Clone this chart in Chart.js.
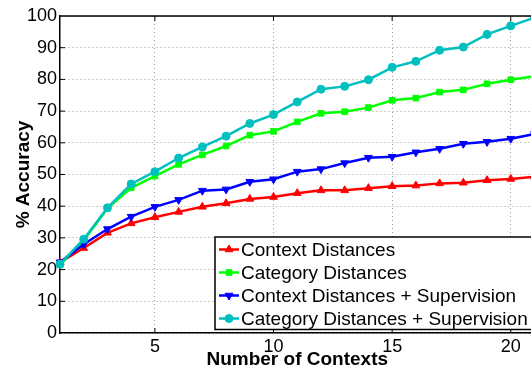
<!DOCTYPE html>
<html>
<head>
<meta charset="utf-8">
<script src="https://cdn.jsdelivr.net/npm/chart.js@4.4.1/dist/chart.umd.min.js"></script>
<style>
html, body { margin: 0; padding: 0; background: #fff; overflow: hidden; }
</style>
</head>
<body>
<canvas id="accuracyChart" width="540" height="371"></canvas>
<script>
// number of contexts on the x axis
const contexts = [1, 2, 3, 4, 5, 6, 7, 8, 9, 10, 11, 12, 13, 14, 15, 16, 17, 18, 19, 20, 21];

// % accuracy for each method
const contextDistances = [22.3, 26.8, 31.6, 34.6, 36.5, 38.2, 39.8, 40.9, 42.3, 42.9, 44.1, 45.0, 45.0, 45.7, 46.3, 46.5, 47.2, 47.4, 48.2, 48.6, 49.3];
const categoryDistances = [21.5, 29.2, 39.3, 45.8, 49.5, 53.2, 56.2, 59.0, 62.4, 63.6, 66.6, 69.3, 69.8, 71.1, 73.4, 74.1, 76.0, 76.7, 78.6, 79.9, 81.0];
const contextSupervision = [22.3, 28.0, 32.8, 36.7, 39.8, 42.0, 44.9, 45.3, 47.7, 48.5, 50.9, 51.7, 53.6, 55.3, 55.6, 57.0, 58.1, 59.7, 60.3, 61.3, 62.8];
const categorySupervision = [21.7, 29.6, 39.5, 47.0, 50.9, 55.2, 58.7, 62.1, 66.1, 68.9, 72.9, 76.9, 77.8, 79.9, 83.8, 85.7, 89.2, 90.2, 94.2, 96.9, 99.5];

const seriesNames = ['Context Distances', 'Category Distances', 'Context Distances + Supervision', 'Category Distances + Supervision'];
const xTicks = [5, 10, 15, 20];

const FONT = "'Liberation Sans', Arial, Helvetica, sans-serif";

function toPoints(values) {
    return values.map((v, i) => ({ x: contexts[i], y: v }));
}

// top border and inward tick marks like matlab
const framePlugin = {
    id: 'frame',
    afterDatasetsDraw(chart) {
        const { ctx, chartArea, scales } = chart;
        ctx.save();
        ctx.strokeStyle = '#000';
        ctx.lineWidth = 1.5;
        ctx.beginPath();
        ctx.moveTo(chartArea.left, chartArea.top);
        ctx.lineTo(chartArea.right + 10, chartArea.top);
        ctx.stroke();
        ctx.lineWidth = 1;
        ctx.beginPath();
        xTicks.forEach(t => {
            const px = scales.x.getPixelForValue(t);
            ctx.moveTo(px, chartArea.top);
            ctx.lineTo(px, chartArea.top + 5);
            ctx.moveTo(px, chartArea.bottom);
            ctx.lineTo(px, chartArea.bottom - 5);
        });
        for (let v = 10; v < 100; v += 10) {
            const py = scales.y.getPixelForValue(v);
            ctx.moveTo(chartArea.left, py);
            ctx.lineTo(chartArea.left + 5, py);
        }
        ctx.stroke();
        ctx.restore();
    }
};

// legend box inside the plot area
const legendPlugin = {
    id: 'boxLegend',
    afterDatasetsDraw(chart) {
        const { ctx } = chart;
        const left = 215, top = 237, bottom = 329.5, right = 560;
        ctx.save();
        ctx.fillStyle = '#fff';
        ctx.fillRect(left, top, right - left, bottom - top);
        ctx.strokeStyle = '#000';
        ctx.lineWidth = 1.5;
        ctx.strokeRect(left, top, right - left, bottom - top);
        const rows = [249.5, 272.5, 295.5, 318.5];
        chart.data.datasets.forEach((ds, i) => {
            const y = rows[i];
            ctx.strokeStyle = ds.borderColor;
            ctx.lineWidth = 2.5;
            ctx.beginPath();
            ctx.moveTo(219, y);
            ctx.lineTo(239, y);
            ctx.stroke();
            ctx.fillStyle = ds.borderColor;
            ctx.strokeStyle = ds.borderColor;
            ctx.lineWidth = 1;
            Chart.helpers.drawPoint(ctx, {
                pointStyle: ds.pointStyle,
                radius: ds.pointRadius,
                rotation: ds.pointRotation || 0,
                borderWidth: 1
            }, 229, y);
            ctx.fillStyle = '#000';
            ctx.font = '19px ' + FONT;
            ctx.textBaseline = 'middle';
            ctx.textAlign = 'left';
            ctx.fillText(ds.label, 241, y + 1);
        });
        ctx.restore();
    }
};

const ctx = document.getElementById('accuracyChart').getContext('2d');
new Chart(ctx, {
    type: 'line',
    data: {
        datasets: [
            { label: seriesNames[0], data: toPoints(contextDistances), borderColor: '#ff0000', backgroundColor: '#ff0000', pointStyle: 'triangle', pointRadius: 4.5, order: 3 },
            { label: seriesNames[1], data: toPoints(categoryDistances), borderColor: '#00ff00', backgroundColor: '#00ff00', pointStyle: 'rect', pointRadius: 4, order: 2 },
            { label: seriesNames[2], data: toPoints(contextSupervision), borderColor: '#0000ff', backgroundColor: '#0000ff', pointStyle: 'triangle', pointRotation: 180, pointRadius: 4.5, order: 1 },
            { label: seriesNames[3], data: toPoints(categorySupervision), borderColor: '#00bfbf', backgroundColor: '#00bfbf', pointStyle: 'circle', pointRadius: 4, order: 0 }
        ]
    },
    options: {
        responsive: false,
        animation: false,
        devicePixelRatio: 1,
        clip: false,
        layout: { padding: { top: 16, right: 4, left: 0, bottom: 0 } },
        elements: {
            line: { borderWidth: 2.5, tension: 0 },
            point: { borderWidth: 1, hoverRadius: 4 }
        },
        plugins: {
            legend: { display: false },
            tooltip: { enabled: false }
        },
        scales: {
            x: {
                type: 'linear',
                min: 1,
                max: 21,
                afterBuildTicks: scale => { scale.ticks = xTicks.map(v => ({ value: v })); },
                afterFit: scale => { scale.height = 38; },
                grid: { color: '#9a9a9a', lineWidth: 1, drawTicks: false },
                border: { display: true, color: '#000', width: 1.5, dash: [1, 3] },
                ticks: { color: '#000', padding: 3, maxRotation: 0, font: { family: FONT, size: 18 } },
                title: { display: true, text: 'Number of Contexts', color: '#000', padding: 0, font: { family: FONT, size: 19, weight: 'bold' } }
            },
            y: {
                min: 0,
                max: 100,
                ticks: { stepSize: 10, color: '#000', padding: 3, font: { family: FONT, size: 18 } },
                afterFit: scale => { scale.width = 60; },
                grid: { color: '#9a9a9a', lineWidth: 1, drawTicks: false },
                border: { display: true, color: '#000', width: 1.5, dash: [1, 3] },
                title: { display: true, text: '% Accuracy', color: '#000', padding: 12, font: { family: FONT, size: 19, weight: 'bold' } }
            }
        }
    },
    plugins: [framePlugin, legendPlugin]
});
</script>
</body>
</html>
